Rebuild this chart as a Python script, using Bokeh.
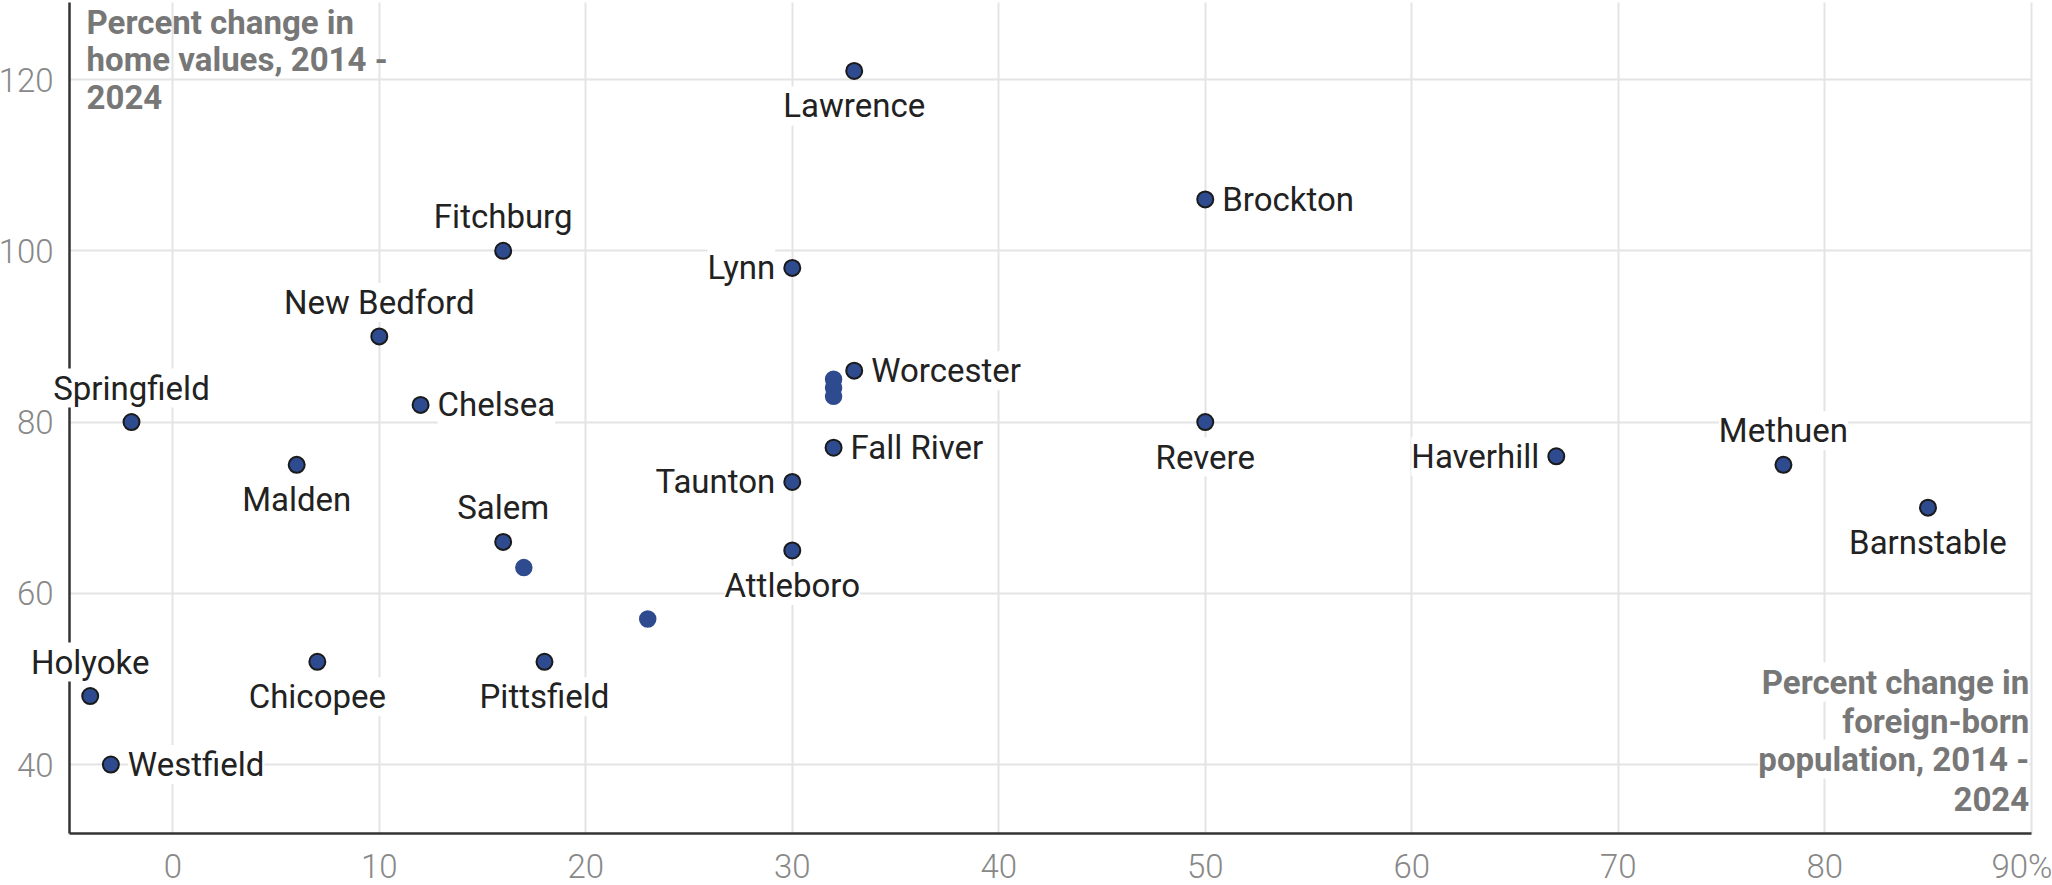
from bokeh.plotting import figure
from bokeh.models import Label, FixedTicker, Range1d, Grid
from bokeh.embed import file_html
from bokeh.resources import INLINE

# ---- data ----
cities = ["Lawrence", "Brockton", "Fitchburg", "Lynn", "New Bedford", "Worcester",
          "Springfield", "Chelsea", "Revere", "Fall River", "Haverhill", "Methuen",
          "Malden", "Taunton", "Barnstable", "Salem", "Attleboro", "Chicopee",
          "Pittsfield", "Holyoke", "Westfield"]
foreign_born_change = [33, 50, 16, 30, 10, 33, -2, 12, 50, 32, 67, 78, 6, 30, 85, 16, 30, 7, 18, -4, -3]
home_value_change = [121, 106, 100, 98, 90, 86, 80, 82, 80, 77, 76, 75, 75, 73, 70, 66, 65, 52, 52, 48, 40]

# unlabeled cities
other_foreign_born_change = [32, 32, 32, 17, 23]
other_home_value_change = [85, 84, 83, 63, 57]

x_ticks = [0, 10, 20, 30, 40, 50, 60, 70, 80, 90]
y_ticks = [40, 60, 80, 100, 120]
y_title_lines = ["Percent change in", "home values, 2014 -", "2024"]
x_title_lines = ["Percent change in", "foreign-born", "population, 2014 -", "2024"]

# label placement (layout)
side = {"Lawrence": "below", "Brockton": "right", "Fitchburg": "above", "Lynn": "left",
        "New Bedford": "above", "Worcester": "right", "Springfield": "above",
        "Chelsea": "right", "Revere": "below", "Fall River": "right", "Haverhill": "left",
        "Methuen": "above", "Malden": "below", "Taunton": "left", "Barnstable": "below",
        "Salem": "above", "Attleboro": "below", "Chicopee": "below", "Pittsfield": "below",
        "Holyoke": "above", "Westfield": "right"}
offsets = {"above": (0, 34, "center"), "below": (0, -35, "center"),
           "left": (-17, 0, "right"), "right": (17, 0, "left")}

# axis extents (data) and the visible window around them
AX_X0, AX_X1 = -5, 90
AX_Y0, AX_Y1 = 32, 129.0
VIEW_X = (-8.344, 91.03)
VIEW_Y = (25.87, 129.23)

p = figure(width=2052, height=885, output_backend="svg", toolbar_location=None,
           x_range=Range1d(*VIEW_X), y_range=Range1d(*VIEW_Y),
           min_border_left=0, min_border_right=0, min_border_top=0, min_border_bottom=0)
p.outline_line_color = None
p.background_fill_color = "white"

GRID = "#e4e4e4"
p.xgrid.ticker = FixedTicker(ticks=x_ticks)
p.ygrid.ticker = FixedTicker(ticks=y_ticks)
if "cross_bounds" in Grid.properties():
    p.xgrid.grid_line_color = GRID
    p.ygrid.grid_line_color = GRID
    p.xgrid.grid_line_width = 2
    p.ygrid.grid_line_width = 2
    p.xgrid.cross_bounds = (AX_Y0, AX_Y1)
    p.ygrid.cross_bounds = (AX_X0, AX_X1)
else:
    p.xgrid.grid_line_color = None
    p.ygrid.grid_line_color = None
    gx = p.segment(x0=x_ticks, y0=[AX_Y0] * len(x_ticks), x1=x_ticks, y1=[AX_Y1] * len(x_ticks),
                   line_color=GRID, line_width=2)
    gy = p.segment(x0=[AX_X0] * len(y_ticks), y0=y_ticks, x1=[AX_X1] * len(y_ticks), y1=y_ticks,
                   line_color=GRID, line_width=2)
    gx.level = "underlay"
    gy.level = "underlay"

for ax in (p.xaxis, p.yaxis):
    ax.major_tick_line_color = None
    ax.minor_tick_line_color = None
    ax.major_tick_out = 0
    ax.major_tick_in = 0
    ax.minor_tick_out = 0
    ax.minor_tick_in = 0
    ax.axis_line_color = "#333333"
    ax.axis_line_width = 2.5
    ax.major_label_text_font = "Roboto Light"
    ax.major_label_text_font_size = "33px"
    ax.major_label_text_color = "#888888"
p.xaxis.ticker = FixedTicker(ticks=x_ticks)
p.yaxis.ticker = FixedTicker(ticks=y_ticks)
p.xaxis.major_label_overrides = {90: "90%"}
p.xaxis.fixed_location = AX_Y0
p.yaxis.fixed_location = AX_X0
p.xaxis.bounds = (AX_X0, AX_X1)
p.yaxis.bounds = (AX_Y0, AX_Y1)
p.xaxis.major_label_standoff = 14
p.yaxis.major_label_standoff = 16

# labels (with white halo box)
for name, fx, hy in zip(cities, foreign_born_change, home_value_change):
    xo, yo, al = offsets[side[name]]
    p.add_layout(Label(x=fx, y=hy, text=name, x_offset=xo, y_offset=yo,
                       text_align=al, text_baseline="middle",
                       text_font="Roboto", text_font_size="33px",
                       text_color="#222222", background_fill_color="white"))

# points
p.scatter(other_foreign_born_change, other_home_value_change, size=16,
          fill_color="#2f4b8f", line_color="#2f4b8f", line_width=1.5)
p.scatter(foreign_born_change, home_value_change, size=16,
          fill_color="#2f4b8f", line_color="#1a1a1a", line_width=2)

# axis titles
TOP_Y = VIEW_Y[1]
for i, (line, dy) in enumerate(zip(y_title_lines, [-21.6, -59.3, -96.6])):
    p.add_layout(Label(x=AX_X0, y=TOP_Y, x_offset=17, y_offset=dy, text=line,
                       text_align="left", text_baseline="middle",
                       text_font="Roboto", text_font_style="bold",
                       text_font_size="33px", text_color="#777777"))
for i, (line, dy) in enumerate(zip(x_title_lines, [151, 111.2, 73.9, 33.9])):
    p.add_layout(Label(x=AX_X1, y=AX_Y0, x_offset=-2, y_offset=dy, text=line,
                       text_align="right", text_baseline="middle",
                       text_font="Roboto", text_font_style="bold",
                       text_font_size="33px", text_color="#777777",
                       background_fill_color="white"))

open("out.html", "w").write(file_html(p, INLINE))
